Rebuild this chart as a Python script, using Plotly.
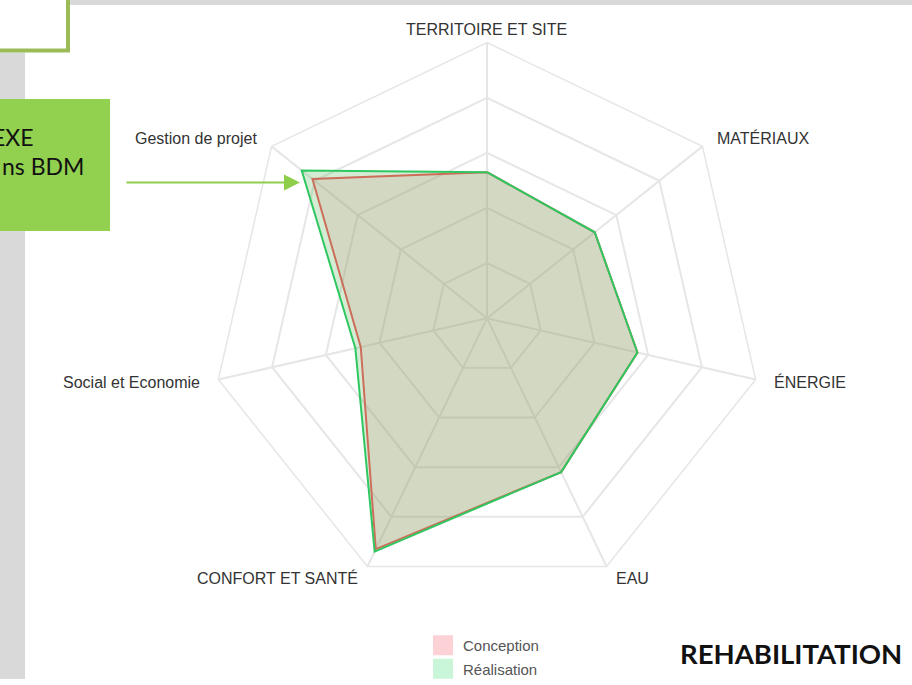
import math
import plotly.graph_objects as go

categories = ["TERRITOIRE ET SITE", "MATÉRIAUX", "ÉNERGIE", "EAU",
              "CONFORT ET SANTÉ", "Social et Economie", "Gestion de projet"]
conception = [53, 50, 56, 62, 93, 47, 81]
realisation = [53, 50, 56, 62, 94, 49, 86]
series_names = ["Conception", "Réalisation"]

W, H = 912, 685


def px(x):
    return x / W


def py(y):
    return 1 - y / H


cx, cy, R = 487, 321, 278

fig = go.Figure()

fig.add_trace(go.Scatterpolar(
    r=conception + conception[:1], theta=categories + categories[:1],
    mode="lines", fill="toself", fillcolor="rgba(245,110,120,0.18)",
    line=dict(color="#f5575c", width=2), showlegend=False, hoverinfo="skip"))
fig.add_trace(go.Scatterpolar(
    r=realisation + realisation[:1], theta=categories + categories[:1],
    mode="lines", fill="toself", fillcolor="rgba(83,179,83,0.25)",
    line=dict(color="#2fc760", width=2), showlegend=False, hoverinfo="skip"))

fig.add_trace(go.Scatterpolar(
    r=[None], theta=[categories[0]], mode="markers", name=series_names[0],
    legendgroup="a",
    marker=dict(symbol="square", size=16, color="#fcd2d6",
                line=dict(color="#fcd2d6", width=4))))
fig.add_trace(go.Scatterpolar(
    r=[None], theta=[categories[0]], mode="markers", name=series_names[1],
    legendgroup="b",
    marker=dict(symbol="square", size=16, color="#c9f5d9",
                line=dict(color="#c9f5d9", width=4))))

grid = "#e6e6e6"
fig.update_layout(
    width=W, height=H,
    margin=dict(l=0, r=0, t=0, b=0),
    paper_bgcolor="white",
    plot_bgcolor="white",
    font=dict(family="Liberation Sans, Arial, sans-serif", color="#333333"),
    polar=dict(
        domain=dict(x=[px(cx - R), px(cx + R)], y=[py(cy + R), py(cy - R)]),
        gridshape="linear",
        bgcolor="white",
        radialaxis=dict(range=[0, 100], dtick=20, showticklabels=False,
                        ticks="", showline=False, gridcolor=grid,
                        gridwidth=1.5),
        angularaxis=dict(direction="clockwise", rotation=90,
                         gridcolor=grid, gridwidth=1.5, linecolor=grid,
                         linewidth=1.5, ticks="", showticklabels=False),
    ),
    showlegend=True,
    legend=dict(x=px(423), y=py(635), xanchor="left", yanchor="top",
                font=dict(size=15, color="#555555"), itemwidth=30,
                bgcolor="rgba(0,0,0,0)", tracegroupgap=1),
)

shapes = [
    dict(type="rect", xref="paper", yref="paper", x0=px(70), x1=px(W),
         y0=py(5), y1=py(0), fillcolor="#d9d9d9", line=dict(width=0),
         layer="below"),
    dict(type="rect", xref="paper", yref="paper", x0=px(0), x1=px(25),
         y0=py(H), y1=py(53), fillcolor="#d9d9d9", line=dict(width=0),
         layer="below"),
    dict(type="rect", xref="paper", yref="paper", x0=px(-5), x1=px(68),
         y0=py(51), y1=py(-5), fillcolor="white",
         line=dict(color="#9bbb59", width=4), layer="above"),
    dict(type="rect", xref="paper", yref="paper", x0=px(0), x1=px(110),
         y0=py(233), y1=py(100), fillcolor="#92d050", line=dict(width=0),
         layer="above"),
]
fig.update_layout(shapes=shapes)

# category labels placed around the outer ring (chart-style point labels)
n = len(categories)
pad_x, pad_y = 14, 13
annotations = []
for i, name in enumerate(categories):
    ang = math.radians(90 - i * 360 / n)
    c, s = math.cos(ang), math.sin(ang)
    lx = cx + (R + pad_x) * c
    ly = cy - (R + pad_y) * s
    xa = "center" if abs(c) < 0.1 else ("left" if c > 0 else "right")
    annotations.append(dict(x=px(lx), y=py(ly), xref="paper", yref="paper",
                            text=name, showarrow=False, xanchor=xa,
                            yanchor="middle",
                            font=dict(size=16, color="#333333")))

annotations += [
    dict(x=px(36), y=py(138), xref="paper", yref="paper", text="EXE",
         showarrow=False, xanchor="right", yanchor="middle",
         font=dict(family="Lato, sans-serif", size=23, color="#111111")),
    dict(x=px(86), y=py(167), xref="paper", yref="paper", text="ns BDM",
         showarrow=False, xanchor="right", yanchor="middle",
         font=dict(family="Lato, sans-serif", size=23, color="#111111")),
    dict(x=px(300), y=py(184), ax=-175, ay=0, xref="paper",
         yref="paper", axref="pixel", ayref="pixel", text="",
         showarrow=True, arrowhead=2, arrowsize=1.6, arrowwidth=2,
         arrowcolor="#8fce4a"),
    dict(x=px(904), y=py(659), xref="paper", yref="paper",
         text="<b>REHABILITATION</b>", showarrow=False, xanchor="right",
         yanchor="middle",
         font=dict(family="Lato, sans-serif", size=27.5, color="#111111")),
]
fig.update_layout(annotations=annotations)

fig.write_html(
    "out.html", config={"displayModeBar": False},
    post_script="var gd=document.getElementById('{plot_id}');"
                "gd.style.position='fixed';gd.style.top='0px';"
                "gd.style.left='0px';"
                "document.body.style.margin='0px';"
                "document.body.style.overflow='hidden';")
